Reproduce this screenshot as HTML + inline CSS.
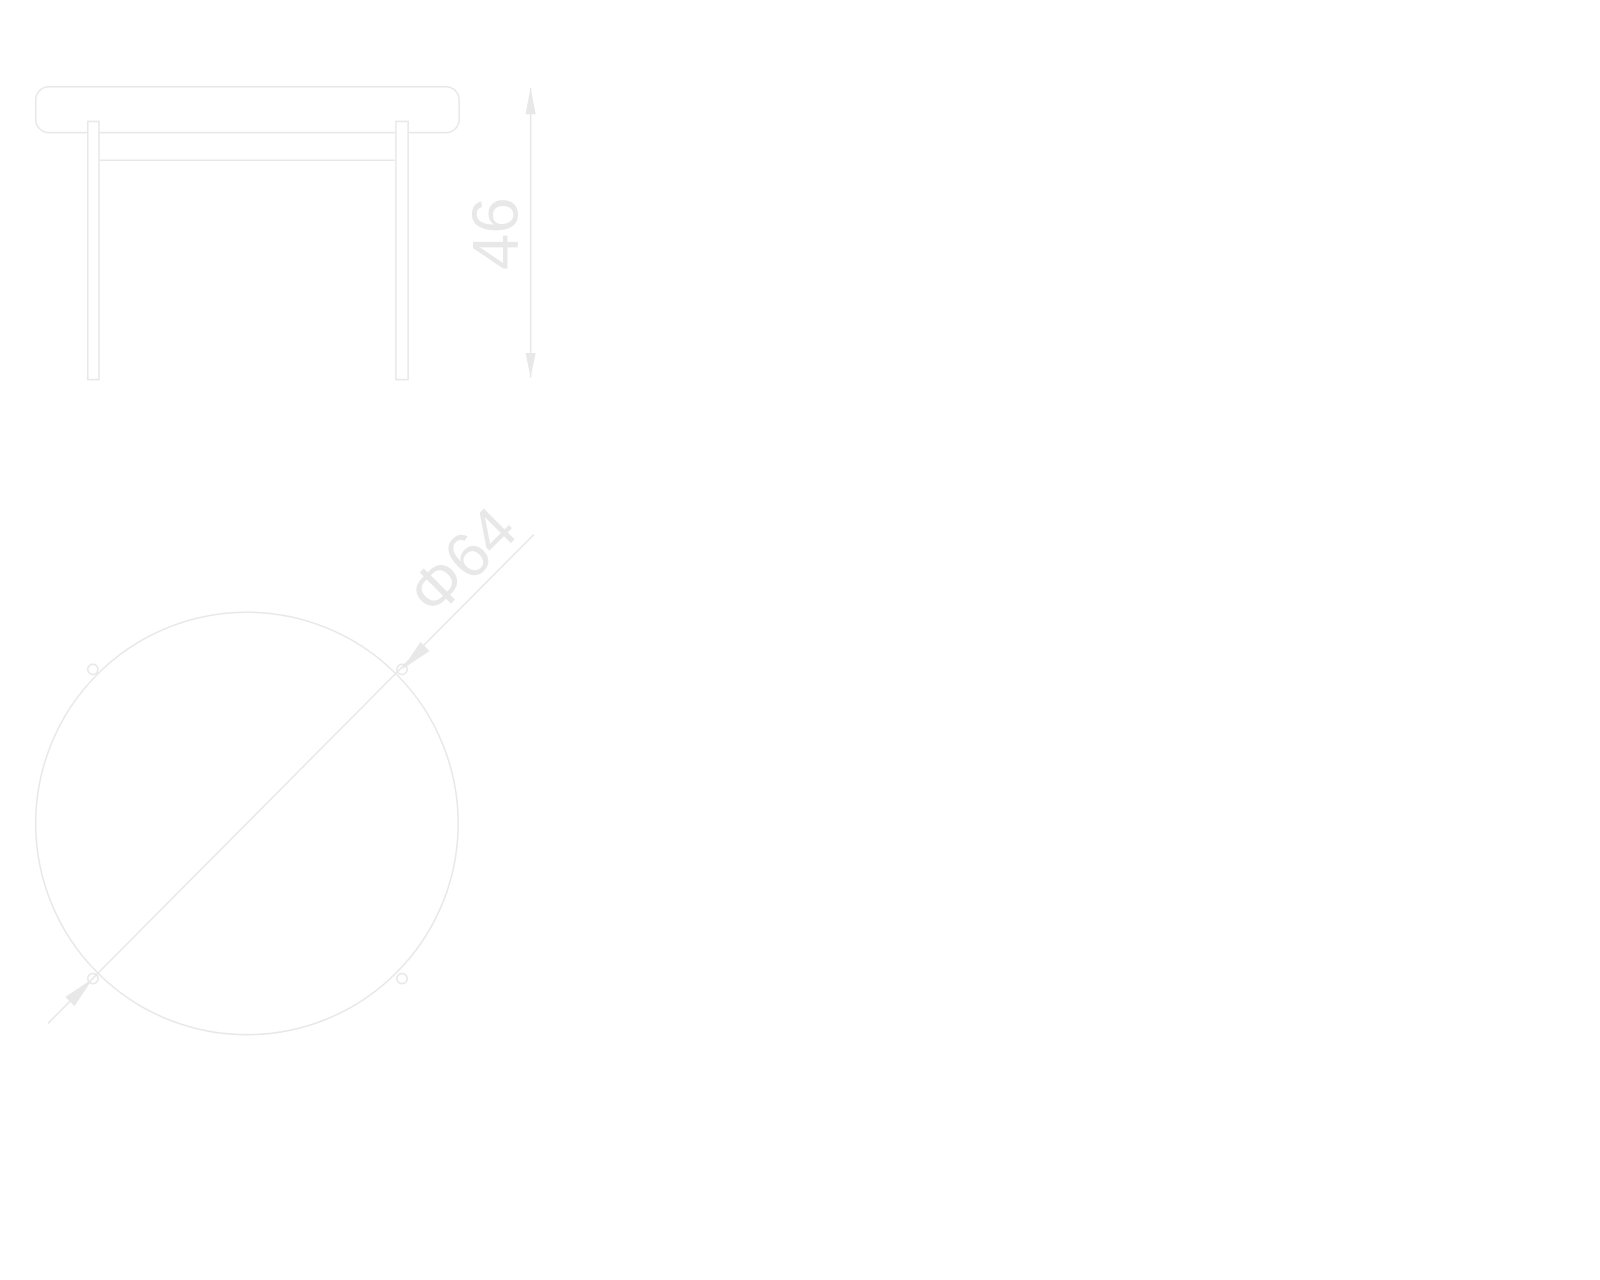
<!DOCTYPE html>
<html><head><meta charset="utf-8"><style>
html,body{margin:0;padding:0;background:#fff;}
svg{display:block}
</style></head><body>
<svg width="1600" height="1280" viewBox="0 0 1600 1280" xmlns="http://www.w3.org/2000/svg">
<g transform="scale(1.0204)">
<g fill="none" stroke="#e8e8e8" stroke-width="1.5">
<rect x="35" y="85" width="415" height="45" rx="13"/>
<line x1="97" y1="157" x2="387" y2="157"/>
<rect x="86" y="119" width="11" height="253" fill="#fff"/>
<rect x="388" y="119" width="12" height="253" fill="#fff"/>
<line x1="520" y1="86" x2="520" y2="370"/>
<path d="M520,86 L515,112 L525,112 Z M520,370 L515,346 L525,346 Z" fill="#e8e8e8" stroke="none"/>
<circle cx="242" cy="807" r="207"/>
<circle cx="91" cy="656" r="5"/>
<circle cx="394" cy="656" r="5"/>
<circle cx="91" cy="959" r="5"/>
<circle cx="394" cy="959" r="5"/>
<line x1="47" y1="1003" x2="523" y2="524"/>
<path d="M91,959 L64,977 L73,986 Z M394,656 L421,638 L412,629 Z" fill="#e8e8e8" stroke="none"/>
</g>
<text x="0" y="0" transform="translate(507,229) rotate(-90)" text-anchor="middle" font-family="Liberation Sans, sans-serif" font-size="64" fill="#e8e8e8">46</text>
<text x="0" y="0" transform="translate(468,565) rotate(-45)" text-anchor="middle" font-family="Liberation Sans, sans-serif" font-size="62" fill="#e8e8e8">Φ64</text>
</g>
</svg>
</body></html>
